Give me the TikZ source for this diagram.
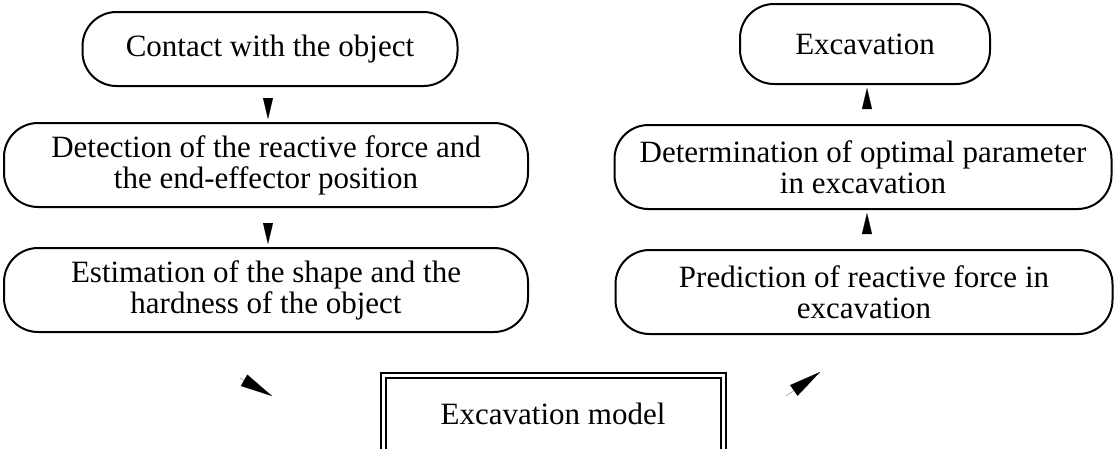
\documentclass[tikz,border=0pt]{standalone}
\usepackage{fontspec}
\setmainfont{Liberation Serif}
\usetikzlibrary{arrows.meta}
\begin{document}
\begin{tikzpicture}[x=1pt,y=-1pt,
  flow/.style={draw=black,line width=2pt,rounded corners=34pt,align=center,
    font=\fontsize{31}{31}\selectfont,inner sep=0pt},
  head/.style={line width=0.1pt,-{Triangle[length=21pt,width=10pt]},shorten >=3pt},
  dhead/.style={line width=0.1pt,-{Triangle[length=32pt,width=13pt]}},
]
\useasboundingbox (0,0) rectangle (1114,448);
% left column
\node[flow,minimum width=375pt,minimum height=74pt] (c1) at (270,49) {Contact with the object};
\node[flow,minimum width=524pt,minimum height=84pt] (c2) at (266,165) {Detection of the reactive force and\\the end-effector position};
\node[flow,minimum width=524pt,minimum height=84pt] (c3) at (266,290) {Estimation of the shape and the\\hardness of the object};
% right column
\node[flow,minimum width=250pt,minimum height=80pt] (r1) at (865,44) {Excavation};
\node[flow,minimum width=497pt,minimum height=84pt] (r2) at (863,167) {Determination of optimal parameter\\in excavation};
\node[flow,minimum width=497pt,minimum height=84pt] (r3) at (864,292) {Prediction of reactive force in\\excavation};
% model
\node[draw=black,line width=2pt,double=white,double distance=3pt,minimum width=340pt,minimum height=78pt,
  font=\fontsize{31}{31}\selectfont] (m) at (553,414) {Excavation model};
% arrows
\draw[head] ([yshift=18pt]c2.north -| 268,0) -- (c2.north -| 268,0);
\draw[head] ([yshift=18pt]c3.north -| 268,0) -- (c3.north -| 268,0);
\draw[head] ([yshift=-18pt]r1.south -| 867,0) -- (r1.south -| 867,0);
\draw[head] ([yshift=-18pt]r2.south -| 867,0) -- (r2.south -| 867,0);
\coordinate (l1) at (240,378);
\coordinate (l2) at (272,396);
\draw[dhead] (l1) -- (l2);
\coordinate (q1) at (786,396);
\coordinate (q2) at (820,372);
\draw[dhead] (q1) -- (q2);
\end{tikzpicture}
\end{document}
